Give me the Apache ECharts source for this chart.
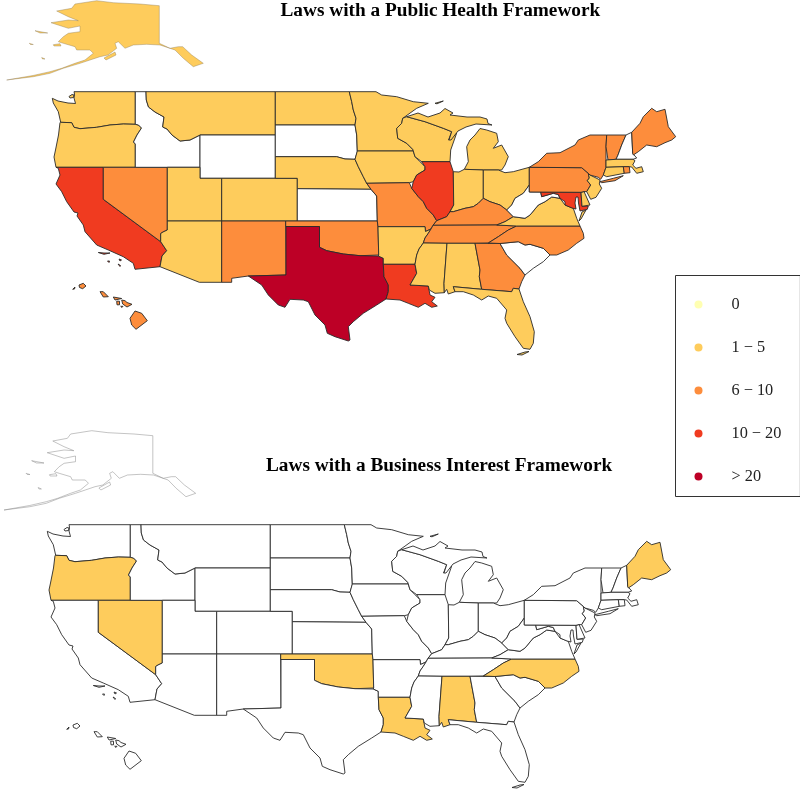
<!DOCTYPE html>
<html><head><meta charset="utf-8">
<style>html,body{margin:0;padding:0;background:#fff}#c{width:800px;height:789px}</style>
<script src="https://cdn.jsdelivr.net/npm/echarts@6/dist/echarts.min.js"></script>
</head><body><div id="c"></div>
<script>
// Bins: 1-5 -> 3, 6-10 -> 8, 10-20 -> 15, >20 -> 25
const publicHealthStates = ['Alaska','Washington','Oregon','Montana','North Dakota','Minnesota','Wisconsin','Iowa','Nebraska','Utah','Arizona','Colorado','Arkansas','Mississippi','Alabama','Florida','Indiana','Michigan','Ohio','Virginia','Massachusetts','Connecticut','New Jersey','Delaware',
 'Nevada','New Mexico','Oklahoma','Missouri','Kentucky','Tennessee','North Carolina','Georgia','New York','Pennsylvania','Vermont','Maine','Rhode Island','Hawaii',
 'California','Illinois','Louisiana','Maryland','Texas'];
const publicHealthValues = [3,3,3,3,3,3,3,3,3,3,3,3,3,3,3,3,3,3,3,3,3,3,3,3,
 8,8,8,8,8,8,8,8,8,8,8,8,8,8,
 15,15,15,15,25];
const businessStates = ['Oregon','Nevada','Oklahoma','North Carolina','Maine','Louisiana','Alabama'];
const businessValues = [3,3,3,3,3,3,3];
const legendLabels = ['0','1 − 5','6 − 10','10 − 20','> 20'];
const legendColors = ['#ffffb2','#fecc5c','#fd8d3c','#f03b20','#bd0026'];
const titles = ['Laws with a Public Health Framework','Laws with a Business Interest Framework'];

// State outlines in a flat map plane (already projected, insets placed)
const stateShapes = {
 'Washington':[[[74,91.7],[135.3,91.7],[135.3,124.3],[123.3,124],[110,125],[96.7,127.3],[80,128.7],[74,127.3],[71.7,122.7],[60.7,122.3],[60,121.7],[58.3,111.7],[53.3,103],[52.3,98.3],[58,101],[68,103],[75.5,103.5],[74,98],[74.5,94]],[[69,96.5],[72,94.5],[74,95],[73.5,97.5],[70,98]]],
 'Oregon':[[[60.7,122.3],[71.7,122.7],[74,127.3],[80,128.7],[96.7,127.3],[110,125],[123.3,124],[135.3,124.3],[138.5,125],[141.5,128],[137,135],[133.5,142],[135.3,144],[135.3,167.3],[56,167.3],[54,157],[55.5,150],[58.5,135],[60,122.5]]],
 'California':[[[56,167.3],[103.3,167.3],[103.3,199.3],[160.7,241.7],[166.7,250.7],[162,256],[160,266.7],[135,269.3],[133.3,263.3],[123.3,256.7],[108.3,250],[96.7,245],[85,231.7],[83.3,225],[77,216],[78,213],[74,212],[66.7,201.7],[61.7,191.7],[56,184],[60,175],[58.3,168.3]],[[98.3,252.5],[104,253],[110,253],[104,254.3]],[[107.5,261],[109.5,261],[109,262.5]],[[119,259],[121.5,260],[120,261]],[[118,264],[120.5,265.5],[120,266.5]]],
 'Nevada':[[[103.3,167.3],[167.3,167.3],[167.3,230],[163,232],[160.7,233.5],[160.7,241.7],[103.3,199.3]]],
 'Idaho':[[[135.3,91.7],[146,91.7],[146.3,100],[148.5,107],[155,112],[164,117],[162.7,127],[167,129],[172,135],[180,141],[190,140],[200,135],[200,167.3],[135.3,167.3],[135.3,144],[133.5,142],[137,135],[141.5,128],[138.5,125],[135.3,124.3]]],
 'Montana':[[[146,91.7],[275.3,91.7],[275.3,135],[200,135],[190,140],[180,141],[172,135],[167,129],[162.7,127],[164,117],[155,112],[148.5,107],[146.3,100]]],
 'Wyoming':[[[200,135],[275.3,135],[275.3,178.3],[200,178.3]]],
 'Utah':[[[167.3,167.3],[200,167.3],[200,178.3],[221.7,178.3],[221.7,221],[167.3,221]]],
 'Arizona':[[[167.3,221],[221.7,221],[221.7,282.3],[199.3,282.3],[160,266.7],[162,256],[166.7,250.7],[160.7,241.7],[160.7,233.5],[163,232],[167.3,230]]],
 'Colorado':[[[221.7,178.3],[297.3,178.3],[297.3,221],[221.7,221]]],
 'New Mexico':[[[221.7,221],[285.7,221],[286,275],[248.3,276],[231.7,278.3],[231.7,282.3],[221.7,282.3]]],
 'North Dakota':[[[275.3,91.7],[349.3,91.7],[351.7,101.7],[353.3,110],[356,118.3],[355,125],[275.3,125]]],
 'South Dakota':[[[275.3,125],[355,125],[356.7,135],[357.3,151.7],[355,159.3],[345,159],[336.7,156.7],[275.3,156.7]]],
 'Nebraska':[[[275.3,156.7],[336.7,156.7],[345,159],[355,159.3],[358.3,166.7],[363.3,176.7],[366.7,183.3],[371,189.3],[297.3,188.7],[297.3,178.3],[275.3,178.3]]],
 'Kansas':[[[297.3,188.7],[371,189.3],[376.7,196],[377.3,221],[297.3,221]]],
 'Oklahoma':[[[285.7,221],[377.3,221],[378,226.7],[378.7,255],[378.3,256],[360,255.7],[343.3,254],[326.7,250.7],[319.5,247.3],[319.5,226.5],[285.7,226.5]]],
 'Texas':[[[286,226.5],[319.5,226.5],[319.5,247.3],[326.7,250.7],[343.3,254],[360,255.7],[378.3,256],[383.3,258.3],[383.3,264.3],[384,276.7],[388.3,285],[388.3,291.7],[386,299],[376.7,305],[363.3,313.3],[353.3,321.7],[348.3,326.7],[350,340],[348.3,341],[335,336.7],[327.3,333.3],[325,325],[315,315],[308.3,301.7],[303.3,300],[290,299.3],[285,307.3],[278.3,305],[268.3,295],[261.7,285],[248.3,276],[286,275]]],
 'Minnesota':[[[349.3,91.7],[376,91.7],[381.7,95],[396.7,96.7],[413.3,101.7],[428.3,103.3],[416.7,108.3],[405,116.7],[402.7,118.3],[401.7,123.3],[396.7,128.3],[397.7,138.3],[406.7,143.3],[412.7,149.3],[413.3,151],[357.3,151],[356.7,135],[355,125],[356,118.3],[353.3,110],[351.7,101.7]]],
 'Iowa':[[[357.3,151],[413.3,151],[415,156.7],[420,161.7],[425,166.7],[425,170],[416.7,175],[413.3,181.7],[409.3,182.7],[366.7,183.3],[363.3,176.7],[358.3,166.7],[355,159.3]]],
 'Missouri':[[[366.7,183.3],[409.3,182.7],[411.7,188.3],[418.3,196.7],[423.3,201.7],[426.7,208.3],[433.3,215],[436.7,220.7],[433,225.3],[431,229],[425.5,231.5],[425,226.7],[378,226.7],[377.3,221],[376.7,196],[371,189.3]]],
 'Arkansas':[[[378,226.7],[425,226.7],[425.5,231.5],[431,229],[428.3,233.3],[425,238],[423.3,243],[419,249],[416.7,255],[415,264.3],[383.3,264.3],[383.3,258.3],[378.3,256],[378.7,255]]],
 'Louisiana':[[[383.3,264.3],[415,264.3],[416.7,273.3],[410,285],[428.3,286],[430,295],[435,297.3],[431.7,301.7],[437.3,306],[431.7,307.3],[425,303.3],[418.3,307.3],[408.3,303.3],[400,300],[386,299],[388.3,291.7],[388.3,285],[384,276.7]]],
 'Wisconsin':[[[406.7,116.7],[425,121.7],[443.3,128.3],[451.7,131.7],[448.5,140],[456.7,133],[450.7,150],[450,161.7],[421.7,161.7],[415,156.7],[413.3,151],[412.7,149.3],[406.7,143.3],[397.7,138.3],[396.7,128.3],[401.7,123.3],[402.7,118.3]]],
 'Illinois':[[[421.7,161.7],[450,161.7],[453.3,171.7],[453.7,205],[450,211.7],[446.7,216.7],[436.7,220.7],[433.3,215],[426.7,208.3],[423.3,201.7],[418.3,196.7],[411.7,188.3],[413.3,181.7],[416.7,175],[425,170],[425,166.7]]],
 'Michigan':[[[464.3,169.3],[468.3,161.7],[467,150],[466.7,146.7],[470,140],[475,135],[480,128.5],[486.7,130],[496.7,133.3],[498.3,141.7],[493.3,148.3],[501.7,145],[508.3,156.7],[505,165],[501.7,170],[483.3,170]],[[406.7,116.7],[418,113],[428,117],[440,113],[445,108.5],[453,113],[450,115],[467,117],[480,117],[487,119],[488,123.5],[492,125],[476,124],[466,127],[458,131],[451,140],[449,140],[451.7,131.7],[443.3,128.3],[425,121.7]],[[435,103.3],[443.3,101],[437,103.8]]],
 'Indiana':[[[453.3,171.7],[459,172],[464.3,169.3],[483.3,170],[483.3,198.3],[478.3,203.3],[473.3,206.7],[465,208.3],[453.3,211.7],[450,211.7],[453.7,205]]],
 'Ohio':[[[483.3,170],[498.3,170],[505,172.7],[513.3,171.7],[529.3,167.3],[529.3,185],[523.3,193.3],[515,198.3],[511.7,205],[506.7,210],[500,205],[490,201.7],[483.3,198.3]]],
 'Kentucky':[[[433,225.3],[436.7,220.7],[446.7,216.7],[450,211.7],[453.3,211.7],[465,208.3],[473.3,206.7],[478.3,203.3],[483.3,198.3],[490,201.7],[500,205],[506.7,210],[513.3,216.7],[505,221.7],[496.7,225]]],
 'Tennessee':[[[433,225.3],[496.7,225],[516.7,226],[508.3,230],[498.3,236.7],[488.3,243],[475,243.3],[447,243.3],[423.3,243],[425,238],[428.3,233.3],[431,229]]],
 'Mississippi':[[[423.3,243],[447,243.3],[444,283.3],[444.3,292.7],[435,293.3],[429.3,290],[428.3,286],[410,285],[416.7,273.3],[415,264.3],[416.7,255],[419,249]]],
 'Alabama':[[[447,243.3],[475,243.3],[480,270],[479.3,276.7],[481.7,289.3],[453.3,286.7],[455,291.7],[448.3,294],[446.7,289.3],[444.3,292.7],[444,283.3]]],
 'Georgia':[[[475,243.3],[500,243.5],[506.7,255],[520,268.3],[525,275],[521.7,281.7],[519,289],[513.3,288.3],[511.7,291.7],[481.7,289.3],[479.3,276.7],[480,270]]],
 'Florida':[[[453.3,286.7],[481.7,289.3],[511.7,291.7],[513.3,288.3],[519,289],[523.3,301.7],[530,316.7],[534.3,331.7],[533.3,343.3],[530,349.3],[523.3,348.3],[515,336.7],[506.7,323.3],[505,318.3],[506.7,310],[496.7,298.3],[488.3,296],[481.7,300],[473.3,295],[463.3,291.7],[455,291.7]],[[517,354.5],[525,352],[529,351.5],[522,355]]],
 'South Carolina':[[[500,243.5],[518.3,241.7],[525,245],[530,244.3],[543.3,248.3],[550,255],[543.3,261.7],[533.3,268.3],[525,275],[520,268.3],[506.7,255]]],
 'North Carolina':[[[516.7,226],[580,226],[583.3,233.3],[584,238.3],[576.7,243.3],[568.3,250],[556.7,255],[550,255],[543.3,248.3],[530,244.3],[525,245],[518.3,241.7],[500,243.5],[488.3,243],[498.3,236.7],[508.3,230]]],
 'Virginia':[[[496.7,225],[505,221.7],[513.3,216.7],[525,218.3],[530,215],[538.3,205],[545,201.7],[551.7,197],[560,198.3],[565,205],[573.3,208.3],[576.7,218.3],[580,226],[516.7,226]],[[582,212],[586,210],[581,219],[579,221]]],
 'West Virginia':[[[529.3,185],[529.3,192],[540.7,192],[541.7,196.7],[553.3,193.3],[558.3,194.5],[560,198.3],[551.7,197],[545,201.7],[538.3,205],[530,215],[525,218.3],[513.3,216.7],[506.7,210],[511.7,205],[515,198.3],[523.3,193.3]]],
 'Maryland':[[[540.7,192],[581,192.3],[582,206.3],[588.3,206],[587.3,209.3],[580,211],[578.5,203],[578,197],[576,197],[575,203],[576,209],[572,208],[565,205],[565,201.7],[560,198.3],[558.3,194.5],[553.3,193.3],[541.7,196.7]]],
 'Delaware':[[[581,192.4],[584,191.5],[586,196],[590,205],[582,206.3]]],
 'Pennsylvania':[[[529.3,167.3],[581.7,167.7],[588.3,173.3],[589.3,178],[587.3,180.7],[590.7,185],[586.7,191.7],[584,191.5],[581,192.3],[529.3,192]]],
 'New Jersey':[[[588.3,173.3],[590,175],[600,180],[599.3,184],[601.7,188.3],[596,197.3],[590.7,199.3],[586.7,191.7],[590.7,185],[587.3,180.7],[589.3,178]]],
 'New York':[[[529.3,167.3],[538.3,161.7],[546.7,153.3],[560,152.7],[575,145],[578.3,140],[590,135],[606.7,135],[606,146.7],[606,167.3],[603.3,175],[600.7,179.3],[598.3,177.3],[590,175],[588.3,173.3],[581.7,167.7]],[[600,181.7],[613.3,178.3],[623.3,175.7],[615,180.7],[601.7,182.7]]],
 'Vermont':[[[606.7,135],[626,135],[621.7,145],[618,155],[616,159.3],[608,160],[606,146.7]]],
 'New Hampshire':[[[626,135],[631.7,132.3],[632.7,153.3],[636.7,158],[633,159.3],[616,159.3],[618,155],[621.7,145]]],
 'Maine':[[[631.7,132.3],[640,123.3],[643.3,116.7],[651.7,108.3],[656.7,111.7],[665,109.3],[668.3,126.7],[675.7,136.7],[671.7,140],[665,142.7],[656.7,146.7],[646.7,145],[638.3,151.7],[633.3,155],[632.7,153.3]]],
 'Massachusetts':[[[606,160],[616,159.3],[633,159.3],[635,160.7],[632.7,165],[636,168.3],[641.7,166.7],[643.3,171.7],[636.7,173.3],[631.7,167],[629.3,166.7],[623.3,166.7],[606,167.3]]],
 'Connecticut':[[[606,167.3],[623.3,166.7],[624.3,173.3],[606.7,176.7],[603.3,175]]],
 'Rhode Island':[[[623.3,166.7],[629.3,166.7],[630,172.7],[624.3,173.3]]],
 'Hawaii':[[[130,318.3],[135,311],[141.7,313.3],[147.3,320.7],[136,329.3],[131.7,325]],[[121.7,300],[125,300.7],[127,302.5],[132,304.3],[127,307],[122.7,304]],[[113.3,297],[121.7,298.5],[115,300]],[[116.7,301.2],[119.5,301.2],[119.5,304.8],[117,304.8]],[[120.7,306.3],[123,306.3],[122,307.5]],[[100,291.7],[103.3,291.7],[108.3,296.7],[103.3,297]],[[79,285],[83.3,283.3],[86,286],[82.7,288.7],[79.5,287.5]],[[72.7,289.3],[75,287],[74.5,289]]],
 'Alaska':[[[159.3,5.7],[159.3,43.3],[170,48.3],[178.3,46.7],[182.7,46.7],[191.7,55],[203.3,63.3],[193.3,66.7],[183.3,58.3],[175,50],[160,45],[146.7,44.3],[133.3,45],[125,48.3],[118.3,41.7],[115,43.3],[116.7,48.3],[108,55],[100,56.7],[90,60],[80,63.3],[63.3,68.3],[50,73.3],[33.3,76.7],[6.7,80],[33,75.5],[50,71.7],[61.7,68.3],[75,63.3],[85,60],[93.3,53.3],[90,50],[76.7,50],[75,46.7],[63.3,43.3],[58.3,41.7],[63.3,36.7],[68.3,33.3],[80,31.7],[80,26],[68.3,28.3],[51,22.7],[68.3,20],[78.3,20.7],[68.3,16.7],[56.7,11],[71.7,8.3],[75,4],[96.7,0.7],[113.3,2.7],[140,4]],[[35,30.7],[47.7,33],[40,33]],[[53.3,44.7],[60,43.7],[61,46],[54,46]],[[29.3,43.3],[33.3,44.5],[30.5,44.5]],[[41.7,57.5],[45,59],[42.5,59]],[[104,58],[115,52],[116,55],[106,60]]]
};

function buildMap(adjust){
  return {type:'FeatureCollection',features:Object.keys(stateShapes).map(name=>({
    type:'Feature',properties:{name},
    geometry:{type:'MultiPolygon',coordinates:stateShapes[name].map(ring=>[ring.map(p=>adjust(name,p))])}
  }))};
}
// In the lower panel the insets sit a little differently relative to the mainland.
echarts.registerMap('publicHealthMap',buildMap((n,p)=>p));
echarts.registerMap('businessMap',buildMap((n,p)=>{
  if(n==='Alaska') return [p[0]*0.975+2.5,p[1]-3];
  if(n==='Hawaii') return [p[0]-1,p[1]+7];
  return p;
}));

const flat={project:p=>p,unproject:p=>p};
function seriesData(names,vals){return names.map((name,i)=>({name,value:vals[i]}));}
const base={type:'map',silent:true,projection:flat,boundingCoords:[[0,0],[800,789]],width:800,height:789,
  roam:false,label:{show:false},emphasis:{disabled:true},
  itemStyle:{areaColor:'#fff',borderColor:'#2a2a2a',borderWidth:0.9}};
const d1=seriesData(publicHealthStates,publicHealthValues).map(d=>d.name==='Alaska'?Object.assign(d,{itemStyle:{borderColor:'#8a7a55',borderWidth:0.4}}):d);
const d2=seriesData(businessStates,businessValues);

const chart=echarts.init(document.getElementById('c'),null,{renderer:'canvas'});
chart.setOption({
  animation:false,backgroundColor:'#fff',
  title:[
    {text:titles[0],left:275.5,top:-3,textStyle:{fontFamily:'Liberation Serif',fontSize:19.3,fontWeight:'bold',color:'#000'}},
    {text:titles[1],left:261,top:452,textStyle:{fontFamily:'Liberation Serif',fontSize:19.3,fontWeight:'bold',color:'#000'}}
  ],
  visualMap:{type:'piecewise',left:675,top:275,orient:'vertical',align:'left',inverse:true,itemSymbol:'circle',itemWidth:8,itemHeight:8,itemGap:27,textGap:29,
    padding:[21,19,12,19],borderColor:'#333',borderWidth:1,backgroundColor:'#fff',selectedMode:false,hoverLink:false,
    textStyle:{fontFamily:'Liberation Serif',fontSize:16.3,color:'#222'},
    pieces:[
      {value:0,label:legendLabels[0],color:legendColors[0]},
      {gte:1,lte:5,label:legendLabels[1],color:legendColors[1]},
      {gt:5,lte:10,label:legendLabels[2],color:legendColors[2]},
      {gt:10,lte:20,label:legendLabels[3],color:legendColors[3]},
      {gt:20,label:legendLabels[4],color:legendColors[4]}
    ]},
  series:[
    Object.assign({},base,{name:titles[0],map:'publicHealthMap',left:0,top:0,data:d1}),
    Object.assign({},base,{name:titles[1],map:'businessMap',left:-5,top:433,data:d2.concat([{name:'Alaska',value:NaN,itemStyle:{areaColor:'#fff',borderColor:'#888',borderWidth:0.5}}])})
  ]
});
</script></body></html>
